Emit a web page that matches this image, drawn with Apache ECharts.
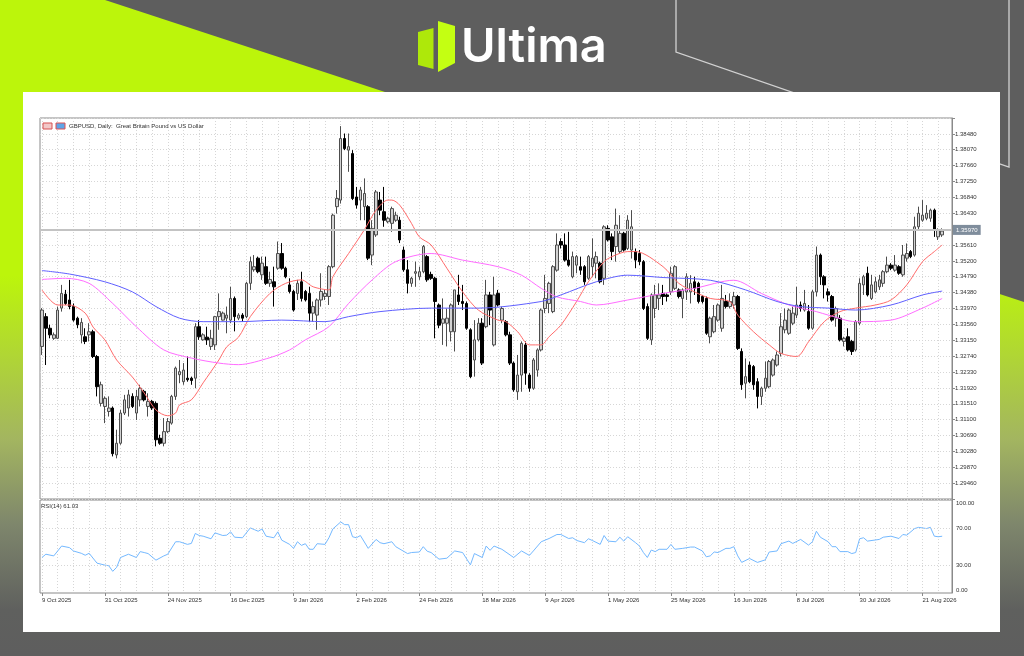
<!DOCTYPE html>
<html>
<head>
<meta charset="utf-8">
<script src="https://cdn.jsdelivr.net/npm/echarts@6/dist/echarts.min.js"></script>
<style>
html,body{margin:0;padding:0;background:#5e5e5e;}
#chart{width:1024px;height:656px;}
</style>
</head>
<body>
<div id="chart"></div>
<script>
// ---------- DATA ----------
const symbolTitle = 'GBPUSD, Daily:  Great Britain Pound vs US Dollar';
const rsiTitle = 'RSI(14) 61.03';
const brandName = 'Ultima';
const startDate = [2025, 9, 9];            // 9 Oct 2025 (UTC month index)
const skipDates = ['2025-12-25', '2026-01-01'];
const barSlots = 232;                        // bars shown incl. right shift
const monthNames = ['Jan','Feb','Mar','Apr','May','Jun','Jul','Aug','Sep','Oct','Nov','Dec'];

// daily candles: [open, close, low, high]
const candles = [
[1.3299,1.3393,1.3277,1.3398],[1.3376,1.3346,1.3251,1.3385],[1.3346,1.3329,1.3320,1.3355],[1.3320,1.3329,1.3316,1.3335],
[1.3320,1.3393,1.3318,1.3402],[1.3398,1.3436,1.3389,1.3458],[1.3434,1.3410,1.3406,1.3445],[1.3419,1.3402,1.3395,1.3471],
[1.3402,1.3367,1.3363,1.3410],[1.3372,1.3355,1.3346,1.3376],[1.3329,1.3361,1.3307,1.3372],[1.3324,1.3312,1.3305,1.3346],
[1.3329,1.3337,1.3312,1.3359],[1.3337,1.3273,1.3269,1.3342],[1.3273,1.3195,1.3170,1.3277],[1.3152,1.3200,1.3144,1.3208],
[1.3144,1.3165,1.3101,1.3170],[1.3131,1.3140,1.3118,1.3170],[1.3140,1.3022,1.3015,1.3144],[1.3019,1.3049,1.3010,1.3084],
[1.3049,1.3127,1.3045,1.3135],[1.3127,1.3161,1.3122,1.3174],[1.3140,1.3174,1.3118,1.3187],[1.3170,1.3144,1.3140,1.3178],
[1.3127,1.3170,1.3109,1.3187],[1.3161,1.3191,1.3144,1.3200],[1.3183,1.3161,1.3157,1.3187],[1.3144,1.3157,1.3118,1.3178],
[1.3157,1.3140,1.3135,1.3161],[1.3152,1.3058,1.3041,1.3157],[1.3062,1.3049,1.3045,1.3071],[1.3049,1.3079,1.3041,1.3114],
[1.3079,1.3105,1.3075,1.3114],[1.3101,1.3170,1.3097,1.3174],[1.3170,1.3243,1.3161,1.3247],[1.3226,1.3234,1.3204,1.3264],
[1.3208,1.3238,1.3200,1.3256],[1.3217,1.3213,1.3208,1.3273],[1.3217,1.3211,1.3200,1.3221],[1.3217,1.3350,1.3191,1.3359],
[1.3350,1.3324,1.3316,1.3367],[1.3316,1.3329,1.3314,1.3333],[1.3323,1.3316,1.3303,1.3350],[1.3299,1.3320,1.3290,1.3342],
[1.3303,1.3376,1.3290,1.3378],[1.3376,1.3389,1.3342,1.3436],[1.3367,1.3385,1.3366,1.3389],[1.3372,1.3380,1.3333,1.3402],
[1.3367,1.3423,1.3359,1.3453],[1.3423,1.3376,1.3338,1.3428],[1.3372,1.3380,1.3367,1.3385],[1.3380,1.3372,1.3363,1.3385],
[1.3376,1.3462,1.3372,1.3466],[1.3462,1.3518,1.3445,1.3531],[1.3497,1.3505,1.3492,1.3535],[1.3527,1.3492,1.3488,1.3531],
[1.3484,1.3514,1.3471,1.3531],[1.3505,1.3462,1.3458,1.3531],[1.3462,1.3472,1.3453,1.3492],[1.3466,1.3453,1.3402,1.3505],
[1.3501,1.3539,1.3497,1.3570],[1.3539,1.3501,1.3497,1.3566],[1.3501,1.3479,1.3475,1.3505],[1.3458,1.3441,1.3436,1.3475],
[1.3441,1.3393,1.3389,1.3445],[1.3436,1.3462,1.3419,1.3471],[1.3466,1.3423,1.3415,1.3492],[1.3441,1.3419,1.3415,1.3445],
[1.3436,1.3385,1.3363,1.3453],[1.3385,1.3402,1.3363,1.3415],[1.3380,1.3419,1.3342,1.3423],[1.3419,1.3441,1.3402,1.3488],
[1.3428,1.3436,1.3419,1.3445],[1.3428,1.3505,1.3406,1.3509],[1.3505,1.3638,1.3501,1.3642],[1.3660,1.3681,1.3642,1.3703],
[1.3677,1.3836,1.3668,1.3868],[1.3836,1.3810,1.3806,1.3849],[1.3806,1.3815,1.3750,1.3849],[1.3797,1.3681,1.3677,1.3806],
[1.3685,1.3664,1.3655,1.3711],[1.3677,1.3703,1.3625,1.3711],[1.3660,1.3694,1.3625,1.3733],[1.3660,1.3527,1.3522,1.3664],
[1.3535,1.3604,1.3509,1.3625],[1.3587,1.3698,1.3582,1.3703],[1.3677,1.3651,1.3638,1.3698],[1.3647,1.3625,1.3608,1.3711],
[1.3621,1.3630,1.3617,1.3634],[1.3617,1.3655,1.3595,1.3660],[1.3625,1.3638,1.3621,1.3647],[1.3625,1.3574,1.3566,1.3634],
[1.3548,1.3497,1.3492,1.3557],[1.3497,1.3462,1.3436,1.3522],[1.3462,1.3475,1.3453,1.3479],[1.3488,1.3492,1.3453,1.3518],
[1.3479,1.3492,1.3471,1.3505],[1.3492,1.3557,1.3488,1.3561],[1.3531,1.3471,1.3466,1.3535],[1.3485,1.3475,1.3471,1.3492],
[1.3475,1.3415,1.3320,1.3479],[1.3406,1.3354,1.3346,1.3410],[1.3359,1.3370,1.3303,1.3423],[1.3359,1.3372,1.3299,1.3397],
[1.3337,1.3406,1.3312,1.3410],[1.3337,1.3445,1.3286,1.3445],[1.3432,1.3415,1.3406,1.3484],[1.3415,1.3410,1.3393,1.3458],
[1.3410,1.3346,1.3342,1.3415],[1.3342,1.3221,1.3217,1.3346],[1.3264,1.3316,1.3221,1.3367],[1.3316,1.3359,1.3312,1.3372],
[1.3359,1.3256,1.3251,1.3372],[1.3350,1.3432,1.3346,1.3471],[1.3432,1.3393,1.3354,1.3440],[1.3303,1.3432,1.3299,1.3479],
[1.3436,1.3406,1.3402,1.3445],[1.3367,1.3397,1.3359,1.3402],[1.3363,1.3329,1.3325,1.3367],[1.3329,1.3256,1.3251,1.3337],
[1.3256,1.3187,1.3182,1.3260],[1.3182,1.3225,1.3161,1.3277],[1.3225,1.3307,1.3182,1.3312],[1.3303,1.3230,1.3200,1.3312],
[1.3225,1.3191,1.3182,1.3230],[1.3191,1.3264,1.3187,1.3269],[1.3238,1.3290,1.3221,1.3294],[1.3290,1.3393,1.3286,1.3397],
[1.3397,1.3423,1.3385,1.3484],[1.3410,1.3462,1.3385,1.3466],[1.3389,1.3505,1.3385,1.3509],[1.3496,1.3561,1.3492,1.3591],
[1.3570,1.3561,1.3552,1.3578],[1.3561,1.3522,1.3518,1.3591],[1.3522,1.3509,1.3505,1.3595],[1.3479,1.3531,1.3475,1.3544],
[1.3509,1.3531,1.3488,1.3535],[1.3505,1.3496,1.3484,1.3531],[1.3505,1.3466,1.3458,1.3509],[1.3475,1.3531,1.3471,1.3535],
[1.3505,1.3527,1.3479,1.3578],[1.3514,1.3531,1.3475,1.3544],[1.3514,1.3466,1.3462,1.3518],[1.3475,1.3608,1.3458,1.3612],
[1.3604,1.3574,1.3570,1.3612],[1.3582,1.3544,1.3522,1.3591],[1.3557,1.3612,1.3518,1.3655],[1.3544,1.3591,1.3539,1.3638],
[1.3591,1.3548,1.3544,1.3595],[1.3552,1.3625,1.3548,1.3638],[1.3548,1.3608,1.3526,1.3651],[1.3544,1.3522,1.3501,1.3552],
[1.3539,1.3518,1.3509,1.3548],[1.3518,1.3397,1.3393,1.3522],[1.3402,1.3320,1.3316,1.3410],[1.3316,1.3432,1.3303,1.3436],
[1.3397,1.3432,1.3372,1.3458],[1.3423,1.3432,1.3393,1.3462],[1.3436,1.3428,1.3406,1.3458],[1.3432,1.3428,1.3415,1.3436],
[1.3440,1.3488,1.3432,1.3505],[1.3449,1.3505,1.3445,1.3509],[1.3445,1.3428,1.3423,1.3449],[1.3423,1.3445,1.3372,1.3449],
[1.3440,1.3479,1.3419,1.3488],[1.3440,1.3462,1.3410,1.3483],[1.3466,1.3449,1.3432,1.3479],[1.3462,1.3415,1.3410,1.3466],
[1.3428,1.3415,1.3410,1.3432],[1.3423,1.3333,1.3329,1.3428],[1.3324,1.3372,1.3307,1.3376],[1.3337,1.3376,1.3333,1.3406],
[1.3367,1.3406,1.3363,1.3410],[1.3346,1.3423,1.3337,1.3458],[1.3415,1.3402,1.3397,1.3432],[1.3402,1.3415,1.3397,1.3436],
[1.3406,1.3428,1.3397,1.3440],[1.3428,1.3294,1.3290,1.3432],[1.3286,1.3200,1.3187,1.3294],[1.3204,1.3221,1.3165,1.3268],
[1.3251,1.3208,1.3204,1.3260],[1.3247,1.3200,1.3187,1.3251],[1.3208,1.3170,1.3139,1.3217],[1.3170,1.3191,1.3148,1.3195],
[1.3191,1.3217,1.3182,1.3260],[1.3195,1.3260,1.3191,1.3264],[1.3225,1.3264,1.3221,1.3268],[1.3251,1.3277,1.3247,1.3286],
[1.3281,1.3350,1.3273,1.3385],[1.3342,1.3367,1.3333,1.3397],[1.3333,1.3393,1.3329,1.3397],[1.3359,1.3385,1.3354,1.3402],
[1.3380,1.3406,1.3372,1.3453],[1.3406,1.3397,1.3389,1.3415],[1.3393,1.3410,1.3389,1.3445],[1.3389,1.3346,1.3342,1.3406],
[1.3346,1.3440,1.3342,1.3445],[1.3440,1.3535,1.3428,1.3557],[1.3535,1.3479,1.3458,1.3539],[1.3479,1.3458,1.3423,1.3483],
[1.3440,1.3432,1.3415,1.3449],[1.3428,1.3367,1.3363,1.3432],[1.3372,1.3397,1.3350,1.3402],[1.3372,1.3316,1.3312,1.3380],
[1.3312,1.3320,1.3299,1.3324],[1.3324,1.3290,1.3286,1.3346],[1.3312,1.3286,1.3277,1.3316],[1.3290,1.3363,1.3286,1.3367],
[1.3359,1.3462,1.3354,1.3475],[1.3458,1.3479,1.3432,1.3484],[1.3488,1.3432,1.3428,1.3505],[1.3423,1.3458,1.3419,1.3484],
[1.3440,1.3466,1.3436,1.3479],[1.3453,1.3471,1.3445,1.3484],[1.3462,1.3492,1.3453,1.3496],[1.3492,1.3509,1.3488,1.3531],
[1.3509,1.3501,1.3496,1.3514],[1.3496,1.3509,1.3492,1.3535],[1.3505,1.3488,1.3484,1.3509],[1.3484,1.3535,1.3479,1.3561],
[1.3527,1.3539,1.3518,1.3565],[1.3544,1.3531,1.3527,1.3548],[1.3535,1.3608,1.3531,1.3634],[1.3608,1.3643,1.3600,1.3660],
[1.3625,1.3638,1.3621,1.3677],[1.3630,1.3643,1.3625,1.3664],[1.3630,1.3651,1.3621,1.3655],[1.3651,1.3600,1.3582,1.3655],
[1.3582,1.3600,1.3574,1.3604],[1.3587,1.3597,1.3582,1.3604]
];

// moving averages: [bar index, value]
const maFast = [[0,1.3445],[4,1.3406],[7,1.3406],[11,1.3385],[13,1.3349],[16,1.3316],[19,1.3264],[23,1.3220],[26,1.3179],[29,1.3135],[32,1.3120],[34,1.3127],[35,1.3148],[38,1.3161],[41,1.3205],[45,1.3264],[47,1.3298],[50,1.3323],[53,1.3376],[58,1.3436],[62,1.3462],[66,1.3471],[69,1.3453],[73,1.3445],[74,1.3479],[78,1.3539],[82,1.3600],[85,1.3651],[88,1.3677],[89,1.3677],[91,1.3664],[94,1.3617],[96,1.3582],[99,1.3561],[103,1.3501],[107,1.3440],[111,1.3393],[116,1.3367],[118,1.3363],[121,1.3337],[124,1.3303],[127,1.3303],[129,1.3324],[132,1.3354],[136,1.3415],[139,1.3466],[143,1.3518],[145,1.3531],[149,1.3544],[151,1.3544],[158,1.3505],[162,1.3462],[166,1.3440],[170,1.3423],[175,1.3415],[177,1.3380],[181,1.3337],[185,1.3303],[188,1.3281],[192,1.3273],[195,1.3311],[199,1.3363],[203,1.3389],[207,1.3398],[212,1.3406],[216,1.3419],[220,1.3458],[224,1.3518],[227,1.3544],[229,1.3561]];
const maMid = [[0,1.3472],[6,1.3475],[12,1.3462],[18,1.3410],[24,1.3350],[31,1.3290],[38,1.3269],[45,1.3256],[50,1.3252],[58,1.3270],[63,1.3290],[67,1.3316],[73,1.3350],[78,1.3410],[84,1.3471],[90,1.3518],[99,1.3539],[107,1.3522],[116,1.3505],[122,1.3483],[127,1.3449],[131,1.3427],[137,1.3415],[141,1.3406],[149,1.3419],[158,1.3436],[166,1.3449],[176,1.3470],[183,1.3436],[190,1.3406],[197,1.3389],[200,1.3380],[207,1.3363],[216,1.3367],[224,1.3398],[229,1.3423]];
const maSlow = [[0,1.3495],[7,1.3486],[16,1.3466],[23,1.3440],[29,1.3402],[35,1.3372],[41,1.3363],[50,1.3363],[61,1.3367],[72,1.3363],[78,1.3376],[86,1.3389],[99,1.3398],[111,1.3398],[127,1.3415],[132,1.3432],[141,1.3466],[149,1.3483],[158,1.3477],[170,1.3470],[179,1.3445],[187,1.3415],[193,1.3402],[200,1.3398],[207,1.3393],[216,1.3406],[224,1.3432],[229,1.3442]];

// RSI(14): [bar index, value]
const rsi = [[0,38.2],[1,41.7],[3,39.9],[5,50.5],[7,48.8],[8,45.2],[10,42.7],[11,40.6],[12,42.7],[14,32.1],[16,30.0],[17,29.3],[18,23.3],[19,27.6],[20,38.2],[22,41.7],[24,38.2],[25,44.5],[26,43.5],[27,42.4],[29,35.3],[31,39.9],[32,41.7],[34,55.1],[35,55.1],[37,52.3],[38,53.3],[39,64.0],[40,61.8],[41,61.1],[43,58.3],[44,64.7],[46,61.8],[47,62.2],[48,65.8],[49,60.0],[51,59.4],[53,70.0],[54,68.2],[55,66.4],[56,68.9],[57,61.1],[59,59.4],[60,65.8],[61,56.8],[63,52.3],[64,48.0],[65,55.1],[66,51.2],[67,53.0],[68,47.0],[69,47.0],[70,53.0],[72,52.3],[73,59.4],[74,68.9],[76,76.4],[77,73.5],[78,73.5],[79,60.5],[80,59.4],[81,61.8],[83,48.0],[85,57.6],[86,54.1],[87,53.0],[89,55.1],[90,49.8],[93,42.4],[94,43.5],[96,44.1],[97,49.8],[98,44.9],[99,43.5],[101,36.4],[103,37.4],[105,45.2],[107,43.5],[109,30.3],[110,42.4],[112,38.2],[113,50.5],[114,45.9],[115,50.5],[117,47.0],[120,38.2],[122,45.2],[124,40.4],[125,45.2],[127,55.1],[129,58.6],[131,62.9],[132,62.9],[134,58.6],[135,59.4],[136,56.5],[138,54.1],[139,58.3],[140,56.5],[142,52.3],[143,61.8],[144,55.8],[146,55.1],[147,60.0],[148,55.8],[149,60.5],[151,54.1],[152,50.5],[153,43.5],[154,38.2],[155,46.2],[156,44.5],[157,47.0],[159,47.0],[160,52.3],[161,47.0],[163,48.0],[165,49.4],[166,49.4],[168,45.2],[169,38.9],[170,39.9],[171,44.1],[172,43.5],[174,48.0],[175,48.0],[176,49.8],[177,39.9],[178,32.9],[180,37.1],[182,32.9],[184,35.6],[185,44.1],[187,45.2],[188,53.0],[190,55.8],[191,53.3],[193,57.6],[195,51.5],[196,55.1],[197,66.4],[198,60.0],[200,55.1],[201,49.8],[202,49.8],[203,44.5],[205,44.5],[206,42.4],[207,43.5],[208,58.3],[209,59.4],[210,55.8],[213,57.6],[214,60.0],[216,61.1],[218,58.6],[219,62.9],[220,62.2],[222,69.3],[223,70.6],[225,69.3],[226,70.6],[227,61.1],[228,60.5],[229,61.03]];

const priceAxis = {min: 1.2905, max: 1.3889, step: 0.0041};
const rsiLevels = [30, 70];
const rsiLabels = [0, 30, 70, 100];

// ---------- BUILD ----------
function buildDates() {
  const out = [];
  const d = new Date(Date.UTC(startDate[0], startDate[1], startDate[2]));
  while (out.length < barSlots) {
    const wd = d.getUTCDay();
    const iso = d.toISOString().slice(0, 10);
    if (wd !== 0 && wd !== 6 && skipDates.indexOf(iso) < 0) out.push(iso);
    d.setUTCDate(d.getUTCDate() + 1);
  }
  return out;
}
const dates = buildDates();
function fmtDate(s) {
  const p = s.split('-');
  return (+p[2]) + ' ' + monthNames[+p[1] - 1] + ' ' + p[0];
}
const lastClose = candles[candles.length - 1][1];
const FONT = 'Liberation Sans';
const dotted = {color: '#d6d6d6', type: [1, 2], width: 1};

const chart = echarts.init(document.getElementById('chart'), null, {renderer: 'canvas', width: 1024, height: 656});

const option = {
  animation: false,
  backgroundColor: '#5e5e5e',
  graphic: [
    {type: 'polygon', z: -30, silent: true,
     shape: {points: [[0,0],[105,0],[1024,302],[1024,656],[0,656]]},
     style: {fill: {type: 'linear', x: 0, y: 0, x2: 0, y2: 1, colorStops: [
       {offset: 0, color: '#bcf50b'}, {offset: 0.42, color: '#bcf50b'},
       {offset: 0.67, color: '#a3b560'}, {offset: 0.8, color: '#7e866c'},
       {offset: 0.93, color: '#5f605e'}, {offset: 1, color: '#5e5e5e'}]}}},
    {type: 'polyline', z: -25, silent: true,
     shape: {points: [[676,0],[676,52],[1009,167],[1009,0]]},
     style: {stroke: '#d2d2d2', lineWidth: 1.3, fill: null}},
    {type: 'rect', z: -20, silent: true, shape: {x: 23, y: 92, width: 977, height: 540}, style: {fill: '#ffffff'}},
    // logo mark
    {type: 'polygon', z: -10, silent: true, shape: {points: [[418,32],[433.5,28],[433.5,69],[418,65]]}, style: {fill: '#aee80a'}},
    {type: 'polygon', z: -10, silent: true, shape: {points: [[438,21],[455,26],[455,63],[438,72]]}, style: {fill: '#c4ff12'}},
    {type: 'text', z: -10, silent: true, x: 461, y: 48,
     style: {text: brandName, fill: '#ffffff', font: '600 47px Inter', verticalAlign: 'middle', align: 'left'}},
    // chart header
    {type: 'rect', z: 10, silent: true, shape: {x: 43, y: 123, width: 9, height: 6}, style: {fill: '#f2c8c8', stroke: '#d65050', lineWidth: 1}},
    {type: 'rect', z: 10, silent: true, shape: {x: 56, y: 123, width: 9, height: 6}, style: {fill: '#5fa4e6', stroke: '#e05050', lineWidth: 1}},
    {type: 'text', z: 10, silent: true, x: 69, y: 126.5,
     style: {text: symbolTitle, fill: '#333333', font: '6px "Liberation Sans"', verticalAlign: 'middle'}},
    {type: 'text', z: 10, silent: true, x: 41, y: 506,
     style: {text: rsiTitle, fill: '#333333', font: '6px "Liberation Sans"', verticalAlign: 'middle'}}
  ],
  grid: [
    {left: 40, right: 72, top: 118, height: 381, show: true, borderColor: '#8a8a8a', borderWidth: 1, backgroundColor: 'transparent'},
    {left: 40, right: 72, top: 500, height: 93, show: true, borderColor: '#8a8a8a', borderWidth: 1, backgroundColor: 'transparent'}
  ],
  xAxis: [
    {type: 'category', gridIndex: 0, data: dates, boundaryGap: true,
     axisLine: {show: false}, axisTick: {show: false}, axisLabel: {show: false},
     splitLine: {show: true, interval: 3, alignWithLabel: true, lineStyle: dotted}},
    {type: 'category', gridIndex: 1, data: dates, boundaryGap: true,
     axisLine: {show: false},
     axisTick: {show: true, interval: 15, alignWithLabel: true, length: 3, lineStyle: {color: '#8a8a8a'}},
     axisLabel: {show: true, interval: 15, align: 'left', margin: 4, fontSize: 6, fontFamily: FONT, color: '#333333',
       formatter: (v) => fmtDate(v)},
     splitLine: {show: true, interval: 3, alignWithLabel: true, lineStyle: dotted}}
  ],
  yAxis: [
    {type: 'value', gridIndex: 0, position: 'right', min: priceAxis.min, max: priceAxis.max, interval: priceAxis.step,
     axisLine: {show: true, lineStyle: {color: '#8a8a8a'}},
     axisTick: {show: true, length: 3, lineStyle: {color: '#8a8a8a'}},
     axisLabel: {fontSize: 6, fontFamily: FONT, color: '#333333', margin: 3,
       formatter: (v) => {
         const s = v.toFixed(5);
         if (s === priceAxis.min.toFixed(5) || s === priceAxis.max.toFixed(5) || s === '1.36020') return '';
         return s;
       }},
     splitLine: {show: true, lineStyle: dotted}},
    {type: 'value', gridIndex: 1, position: 'right', min: 0, max: 100, interval: 10,
     axisLine: {show: true, lineStyle: {color: '#8a8a8a'}},
     axisTick: {show: false},
     axisLabel: {fontSize: 6, fontFamily: FONT, color: '#333333', margin: 4,
       formatter: (v) => {
         if (rsiLabels.indexOf(v) < 0) return '';
         const s = v.toFixed(2);
         if (v === 100) return '{t|' + s + '}';
         if (v === 0) return '{b|' + s + '}';
         return s;
       },
       rich: {t: {fontSize: 6, fontFamily: FONT, color: '#333333', padding: [7, 0, 0, 0]},
              b: {fontSize: 6, fontFamily: FONT, color: '#333333', padding: [0, 0, 6, 0]}}},
     splitLine: {show: false}}
  ],
  series: [
    {type: 'candlestick', name: 'GBPUSD', xAxisIndex: 0, yAxisIndex: 0, data: candles, barWidth: 3,
     itemStyle: {color: '#d2d2d2', color0: '#000000', borderColor: '#4d4d4d', borderColor0: '#000000', borderWidth: 1},
     markLine: {silent: true, symbol: 'none', animation: false,
       data: [{yAxis: lastClose}],
       lineStyle: {color: '#c3c3c3', width: 2, type: 'solid'},
       label: {show: true, position: 'end', distance: 1, formatter: () => lastClose.toFixed(5),
         fontSize: 6, fontFamily: FONT, color: '#ffffff', backgroundColor: '#7f8d9c', padding: [2, 3]}}},
    {type: 'line', name: 'MA fast', xAxisIndex: 0, yAxisIndex: 0, data: maFast, showSymbol: false, smooth: 0.3, z: 4,
     lineStyle: {color: '#ff6b6b', width: 1}},
    {type: 'line', name: 'MA mid', xAxisIndex: 0, yAxisIndex: 0, data: maMid, showSymbol: false, smooth: 0.3, z: 4,
     lineStyle: {color: '#ff6cff', width: 1}},
    {type: 'line', name: 'MA slow', xAxisIndex: 0, yAxisIndex: 0, data: maSlow, showSymbol: false, smooth: 0.3, z: 4,
     lineStyle: {color: '#5f5fff', width: 1}},
    {type: 'line', name: 'RSI(14)', xAxisIndex: 1, yAxisIndex: 1, data: rsi, showSymbol: false, z: 4,
     lineStyle: {color: '#74b9ff', width: 1},
     markLine: {silent: true, symbol: 'none', animation: false, label: {show: false},
       data: rsiLevels.map(v => ({yAxis: v})), lineStyle: dotted}}
  ]
};
chart.setOption(option);
</script>
</body>
</html>
